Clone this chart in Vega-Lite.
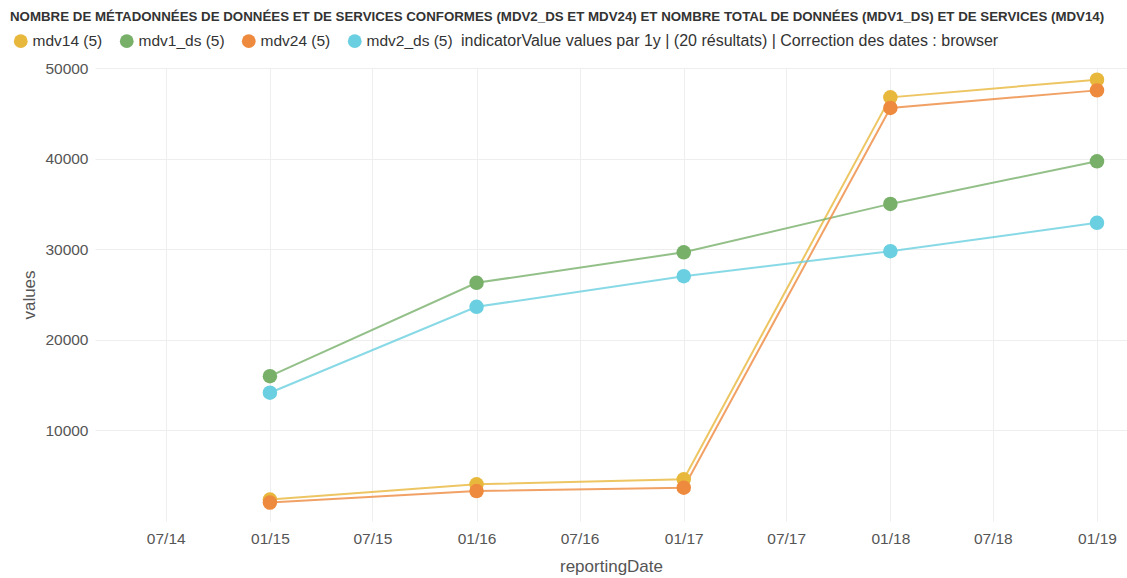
{
  "$schema": "https://vega.github.io/schema/vega-lite/v6.json",
  "width": 1032,
  "height": 453,
  "autosize": {"type": "none"},
  "padding": {"left": 95, "top": 68, "right": 0, "bottom": 57},
  "background": "white",
  "config": {
    "font": "Liberation Sans",
    "view": {"stroke": null}
  },
  "title": {
    "text": "NOMBRE DE MÉTADONNÉES DE DONNÉES ET DE SERVICES CONFORMES (MDV2_DS ET MDV24) ET NOMBRE TOTAL DE DONNÉES (MDV1_DS) ET DE SERVICES (MDV14)",
    "anchor": "start",
    "frame": "group",
    "dx": -85,
    "offset": 10,
    "fontSize": 13.3,
    "fontWeight": "bold",
    "color": "#333333",
    "limit": 1200
  },
  "data": {
    "values": [
      {"reportingDate": "2015-01-01", "series": "mdv14", "values": 2370},
      {"reportingDate": "2016-01-01", "series": "mdv14", "values": 4050},
      {"reportingDate": "2017-01-01", "series": "mdv14", "values": 4600},
      {"reportingDate": "2018-01-01", "series": "mdv14", "values": 46760},
      {"reportingDate": "2019-01-01", "series": "mdv14", "values": 48710},
      {"reportingDate": "2015-01-01", "series": "mdv1_ds", "values": 15990},
      {"reportingDate": "2016-01-01", "series": "mdv1_ds", "values": 26290},
      {"reportingDate": "2017-01-01", "series": "mdv1_ds", "values": 29660},
      {"reportingDate": "2018-01-01", "series": "mdv1_ds", "values": 35000},
      {"reportingDate": "2019-01-01", "series": "mdv1_ds", "values": 39700},
      {"reportingDate": "2015-01-01", "series": "mdv24", "values": 2030},
      {"reportingDate": "2016-01-01", "series": "mdv24", "values": 3310},
      {"reportingDate": "2017-01-01", "series": "mdv24", "values": 3680},
      {"reportingDate": "2018-01-01", "series": "mdv24", "values": 45590},
      {"reportingDate": "2019-01-01", "series": "mdv24", "values": 47530},
      {"reportingDate": "2015-01-01", "series": "mdv2_ds", "values": 14160},
      {"reportingDate": "2016-01-01", "series": "mdv2_ds", "values": 23640},
      {"reportingDate": "2017-01-01", "series": "mdv2_ds", "values": 27020},
      {"reportingDate": "2018-01-01", "series": "mdv2_ds", "values": 29780},
      {"reportingDate": "2019-01-01", "series": "mdv2_ds", "values": 32910}
    ]
  },
  "encoding": {
    "x": {
      "field": "reportingDate",
      "type": "temporal",
      "scale": {"domain": ["2014-02-26", "2019-02-23"]},
      "axis": {
        "format": "%m/%y",
        "values": ["2014-07-01", "2015-01-01", "2015-07-01", "2016-01-01", "2016-07-01", "2017-01-01", "2017-07-01", "2018-01-01", "2018-07-01", "2019-01-01"],
        "title": "reportingDate",
        "domain": false,
        "ticks": false,
        "grid": true,
        "gridColor": "#eeeeee",
        "labelFontSize": 15.5,
        "labelColor": "#555555",
        "labelPadding": 10,
        "titleFontSize": 17,
        "titleFontWeight": "normal",
        "titleColor": "#555555",
        "titlePadding": 12
      }
    },
    "y": {
      "field": "values",
      "type": "quantitative",
      "scale": {"domain": [0, 50000], "nice": false},
      "axis": {
        "values": [10000, 20000, 30000, 40000, 50000],
        "format": "d",
        "title": "values",
        "domain": false,
        "ticks": false,
        "grid": true,
        "gridColor": "#eeeeee",
        "labelFontSize": 15.5,
        "labelColor": "#555555",
        "labelPadding": 7,
        "titleFontSize": 17,
        "titleFontWeight": "normal",
        "titleColor": "#555555",
        "titlePadding": 6
      }
    },
    "color": {
      "field": "series",
      "type": "nominal",
      "scale": {
        "domain": ["mdv14", "mdv1_ds", "mdv24", "mdv2_ds"],
        "range": ["#E8B83C", "#78B06A", "#EE8A3E", "#6ACFE0"]
      },
      "legend": {
        "orient": "none",
        "legendX": -82,
        "legendY": -35,
        "direction": "horizontal",
        "symbolType": "circle",
        "symbolSize": 190,
        "symbolOpacity": 1,
        "symbolStrokeWidth": 0,
        "labelFontSize": 15.5,
        "labelColor": "#333333",
        "labelExpr": "datum.label + ' (5)'",
        "columnPadding": 16,
        "title": "indicatorValue values par 1y | (20 résultats) | Correction des dates : browser",
        "titleOrient": "right",
        "titleFontSize": 16,
        "titleFontWeight": "normal",
        "titleColor": "#333333",
        "titlePadding": 8,
        "titleBaseline": "middle",
        "titleLimit": 800
      }
    }
  },
  "layer": [
    {
      "mark": {"type": "line", "strokeWidth": 2, "opacity": 0.8}
    },
    {
      "mark": {"type": "circle", "size": 210, "opacity": 1}
    }
  ]
}
